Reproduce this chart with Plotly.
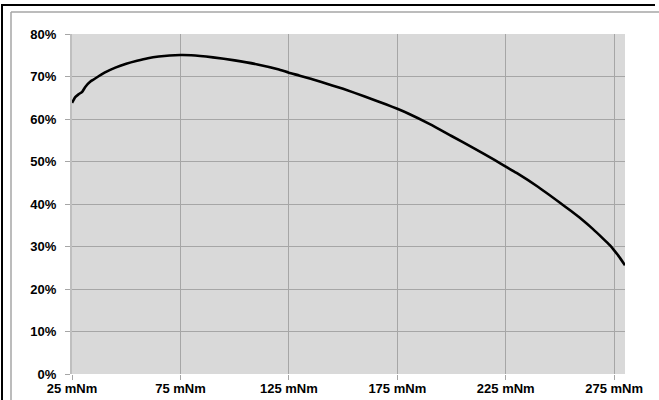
import plotly.graph_objects as go

torque = [25, 26.6, 28, 29.7, 31.2, 33.5, 35, 40, 45, 50, 55, 60, 65, 70, 75, 80, 90, 100, 110, 120,
          125, 130, 140, 150, 160, 170, 175, 180, 190, 200, 210, 220, 225, 230, 240, 250, 255, 260,
          265, 270, 273, 275, 277, 280]
efficiency = [63.8, 65.2, 65.8, 66.4, 67.6, 68.8, 69.3, 70.9, 72.1, 73.0, 73.7, 74.3, 74.7, 74.95, 75.05,
              75.0, 74.5, 73.8, 72.9, 71.7, 70.9, 70.2, 68.7, 67.1, 65.3, 63.4, 62.4, 61.3, 58.8, 56.0,
              53.2, 50.3, 48.8, 47.3, 44.0, 40.3, 38.4, 36.4, 34.2, 31.8, 30.3, 29.1, 27.8, 25.6]

x_ticks = [25, 75, 125, 175, 225, 275]
x_labels = ["25 mNm", "75 mNm", "125 mNm", "175 mNm", "225 mNm", "275 mNm"]
y_ticks = [0, 10, 20, 30, 40, 50, 60, 70, 80]
y_labels = ["0%", "10%", "20%", "30%", "40%", "50%", "60%", "70%", "80%"]

fig = go.Figure()
fig.add_trace(go.Scatter(x=torque, y=efficiency, mode="lines",
                         line=dict(color="black", width=2.6, shape="spline", smoothing=0.5),
                         hoverinfo="skip", showlegend=False))

W, H = 659, 400
L, R, T, B = 72, 625, 34, 374
pw, ph = R - L, B - T

def px(p):
    return (p - L) / pw

def py(q):
    return (B - q) / ph

font = dict(family="Liberation Sans, Arial, sans-serif", size=13, color="black", weight="bold")

def seg(x0, y0, x1, y1, color, width):
    return dict(type="line", xref="paper", yref="paper",
                x0=px(x0), y0=py(y0), x1=px(x1), y1=py(y1),
                line=dict(color=color, width=width))

fig.update_layout(
    width=W, height=H,
    margin=dict(l=L, r=W - R, t=T, b=H - B, pad=0, autoexpand=False),
    paper_bgcolor="white", plot_bgcolor="#d9d9d9",
    xaxis=dict(range=[25, 280], tickvals=x_ticks, ticktext=x_labels, showgrid=True,
               gridcolor="#a6a6a6", gridwidth=1, zeroline=False, ticks="outside", ticklen=5,
               tickcolor="#a6a6a6", tickfont=font, showline=False, fixedrange=True,
               automargin=False, ticklabelstandoff=-3),
    yaxis=dict(range=[0, 80], tickvals=y_ticks, ticktext=y_labels, showgrid=True,
               gridcolor="#a6a6a6", gridwidth=1, zeroline=False, ticks="outside", ticklen=5,
               tickcolor="#a6a6a6", tickfont=font, showline=True, linecolor="#bfbfbf",
               linewidth=2, fixedrange=True, automargin=False, ticklabelstandoff=6),
    shapes=[
        seg(11, 402, 11, 12, "#a6a6a6", 1.5),
        seg(11, 12, 662, 12, "#a6a6a6", 1.5),
        seg(2, 402, 2, 5, "black", 2),
        seg(1, 5, 655, 5, "black", 2),
    ],
)

fig.write_html("out.html", config={"displayModeBar": False},
               post_script="document.body.style.margin='0';document.body.style.overflow='hidden';")
